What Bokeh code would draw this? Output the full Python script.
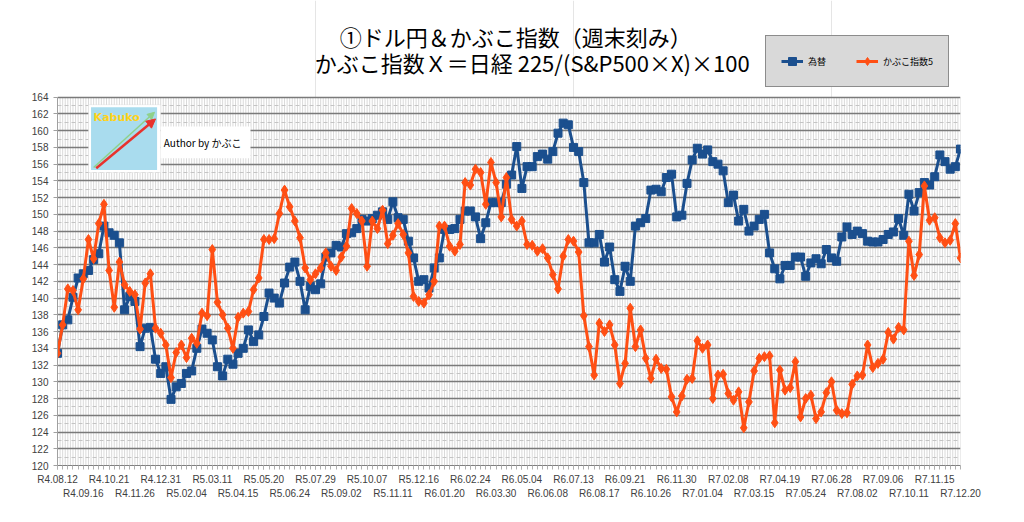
from bokeh.plotting import figure
from bokeh.models import (Range1d, FixedTicker, SingleIntervalTicker, LinearAxis,
                          Label, Legend, LegendItem, BoxAnnotation, Arrow, NormalHead)
from bokeh.embed import file_html
from bokeh.resources import INLINE

# ---- data ----
weeks = list(range(176))

tick_labels = ["R4.08.12", "R4.09.16", "R4.10.21", "R4.11.26", "R4.12.31", "R5.02.04",
               "R5.03.11", "R5.04.15", "R5.05.20", "R5.06.24", "R5.07.29", "R5.09.02",
               "R5.10.07", "R5.11.11", "R5.12.16", "R6.01.20", "R6.02.24", "R6.03.30",
               "R6.05.04", "R6.06.08", "R6.07.13", "R6.08.17", "R6.09.21", "R6.10.26",
               "R6.11.30", "R7.01.04", "R7.02.08", "R7.03.15", "R7.04.19", "R7.05.24",
               "R7.06.28", "R7.08.02", "R7.09.06", "R7.10.11", "R7.11.15", "R7.12.20"]

usdjpy = [133.4, 136.8, 137.4, 140.1, 142.4, 142.9, 143.3, 144.6, 145.3, 148.6, 147.8, 147.5,
          146.6, 138.6, 140.2, 139.6, 134.2, 136.4, 136.5, 132.7, 131.0, 131.8, 127.9, 129.4,
          129.8, 131.0, 131.3, 134.0, 136.3, 135.8, 135.0, 131.8, 130.7, 132.7, 132.1, 133.4,
          134.0, 136.2, 134.8, 135.6, 137.8, 140.6, 140.0, 139.4, 141.8, 143.7,
          144.3, 142.0, 138.6, 141.4, 141.0, 141.7, 144.9, 145.4, 146.3, 146.1, 147.7, 147.8,
          148.3, 149.4,
          149.2, 149.5, 149.9, 150.3, 149.4, 151.5, 149.6, 149.4, 146.8, 144.8, 142.0, 142.2,
          141.2, 143.6, 144.8, 148.2, 148.2, 148.3, 149.4, 150.4, 150.4, 149.7, 147.1, 149.0,
          151.4, 151.4, 151.4, 153.6,
          154.7, 158.1, 153.1, 155.7, 155.7, 156.9, 157.2, 156.6, 157.5, 159.7, 160.9, 160.7,
          158.0, 157.5, 153.8, 146.6, 146.6, 147.6, 144.3, 146.1, 142.2, 140.8, 143.8, 142.0,
          148.6, 149.0, 149.5, 152.9, 153.0, 152.7, 154.4,
          154.8, 149.7, 149.9, 153.7, 156.5, 157.9, 157.2, 157.7, 156.3, 156.0, 155.2, 151.4,
          152.3, 149.2, 150.6, 148.0, 148.6, 149.4, 150.0, 145.4, 143.5, 142.3, 143.9, 143.9,
          144.9, 144.9, 142.6, 144.2, 144.7,
          144.1, 145.8, 144.8, 144.4, 147.3, 148.5, 147.6, 148.0, 147.7, 146.8, 146.7, 146.7,
          147.0, 147.6, 147.9, 149.5, 147.5, 152.4, 150.4, 152.6, 153.8, 153.5, 154.5, 157.1,
          156.3, 155.4, 155.7, 157.8]

kabuko5 = [133.4, 136.8, 141.1, 140.9, 138.6, 142.3, 147.0, 144.7, 148.9, 151.2, 143.3, 138.9,
           144.3, 141.6, 140.8, 140.4, 136.3, 141.8, 142.9, 136.4, 135.8, 134.4, 130.5, 133.5,
           134.4, 132.9, 135.2, 134.6, 138.2, 137.9, 145.8, 139.5, 138.0, 136.4, 134.0, 137.7,
           138.2, 138.4, 141.0, 142.4, 147.0, 147.0, 147.1, 150.1, 152.9, 150.9,
           149.2, 147.2, 143.6, 142.2, 142.9, 143.6, 145.4, 143.8, 143.3, 144.9, 146.2, 150.7,
           150.1, 149.2,
           143.8, 149.2, 148.3, 150.5, 146.5, 147.5, 148.9, 147.6, 145.4, 140.2, 139.6, 139.4,
           140.4, 142.0, 148.6, 148.6, 146.2, 145.6, 146.4, 153.8, 153.5, 155.4, 155.0, 151.2,
           156.2, 153.8, 149.7, 154.4,
           149.4, 148.6, 149.2, 146.4, 146.3, 145.6, 145.9, 144.8, 142.8, 141.1, 145.0, 147.0,
           146.8, 145.5, 137.9, 134.2, 130.8, 137.0, 136.0, 136.8, 134.4, 129.8, 132.2, 138.8,
           134.2, 136.2, 132.8, 130.4, 132.7, 131.6, 131.5,
           128.2, 126.4, 128.3, 130.3, 130.4, 134.9, 134.0, 134.4, 128.0, 130.8, 130.9, 128.6,
           127.8, 128.8, 124.5, 127.6, 131.3, 132.8, 133.0, 133.1, 125.1, 131.4, 129.0, 129.3,
           132.4, 125.8, 128.0, 128.4, 125.6,
           126.4, 128.7, 130.0, 126.6, 126.2, 126.3, 129.7, 130.7, 130.8, 134.4, 131.7, 132.2,
           132.7, 135.9, 135.1, 136.5, 136.2, 146.8, 142.7, 145.2, 153.4, 149.3, 149.6, 147.2,
           146.6, 146.9, 148.9, 144.8]

series_names = ["為替", "かぶこ指数5"]
title_lines = ["①ドル円＆かぶこ指数（週末刻み）", "かぶこ指数Ｘ＝日経 225/(S&P500×X)×100"]

Y_MIN, Y_MAX = 120, 164
Y_TOP = 175.55  # headroom above the plot area for title / legend

BLUE = "#1b4f8e"
ORANGE = "#ff4f14"
TXT = "#404040"
AXFONT = "Liberation Sans"
JPFONT = "Noto Sans CJK JP"

p = figure(width=1016, height=514, output_backend="svg", toolbar_location=None,
           x_range=Range1d(0, 175), y_range=Range1d(Y_MIN, Y_TOP),
           x_axis_location=None,
           min_border_left=57, min_border_right=56, min_border_top=0, min_border_bottom=49)
p.outline_line_color = None
p.background_fill_color = "white"
p.border_fill_color = "white"

# y axis
p.yaxis.ticker = SingleIntervalTicker(interval=2, num_minor_ticks=2)
p.yaxis.bounds = (Y_MIN, Y_MAX)
p.yaxis.axis_line_color = "#a0a0a0"
p.yaxis.major_tick_line_color = "#a0a0a0"
p.yaxis.major_tick_out = 4
p.yaxis.major_tick_in = 0
p.yaxis.minor_tick_line_color = None
p.yaxis.major_label_standoff = 5
p.yaxis.major_label_text_font = AXFONT
p.yaxis.major_label_text_font_size = "10px"
p.yaxis.major_label_text_color = TXT

p.ygrid.bounds = (Y_MIN, Y_MAX)
p.ygrid.grid_line_color = "#7a7a7a"
p.ygrid.grid_line_width = 1.3
p.ygrid.minor_grid_line_color = "#c4c4c4"
p.ygrid.minor_grid_line_dash = "4 3"
p.ygrid.minor_grid_line_width = 1

# dense vertical grid (one line per week and half week), limited to the plot area
vx = [w * 0.5 for w in range(2 * (len(weeks) - 1) + 1)]
p.segment(x0=vx, y0=[Y_MIN] * len(vx), x1=vx, y1=[Y_MAX] * len(vx),
          line_color="#dadada", line_width=1, level="underlay")

# x axes (two rows of labels)
row1 = {i * 5: tick_labels[i] for i in range(0, len(tick_labels), 2)}
row2 = {i * 5: tick_labels[i] for i in range(1, len(tick_labels), 2)}
ax1 = LinearAxis(ticker=FixedTicker(ticks=list(row1.keys()), minor_ticks=weeks),
                 major_label_overrides=row1)
ax1.axis_line_color = "#808080"
ax1.major_tick_line_color = "#b0b0b0"
ax1.minor_tick_line_color = "#b0b0b0"
ax1.major_tick_out = 4
ax1.major_tick_in = 0
ax1.minor_tick_out = 4
ax1.minor_tick_in = 0
ax1.major_label_standoff = 4
ax1.major_label_text_font = AXFONT
ax1.major_label_text_font_size = "10px"
ax1.major_label_text_color = TXT
p.add_layout(ax1, "below")

ax2 = LinearAxis(ticker=FixedTicker(ticks=list(row2.keys())), major_label_overrides=row2)
ax2.axis_line_color = None
ax2.major_tick_line_color = None
ax2.minor_tick_line_color = None
ax2.major_tick_out = 0
ax2.major_tick_in = 0
ax2.major_label_standoff = 0
ax2.major_label_text_font = AXFONT
ax2.major_label_text_font_size = "10px"
ax2.major_label_text_color = TXT
p.add_layout(ax2, "below")

# series
bl = p.line(weeks, usdjpy, line_color=BLUE, line_width=3)
bs = p.scatter(weeks, usdjpy, marker="square", size=8, fill_color=BLUE, line_color=BLUE)
ol = p.line(weeks, kabuko5, line_color=ORANGE, line_width=3)
os_ = p.scatter(weeks, kabuko5, marker="diamond", size=10, fill_color=ORANGE, line_color=ORANGE)

legend = Legend(items=[LegendItem(label=series_names[0], renderers=[bl, bs]),
                       LegendItem(label=series_names[1], renderers=[ol, os_])],
                location=(708, 378), orientation="horizontal",
                padding=15, spacing=28, margin=0,
                glyph_width=22, glyph_height=20, label_height=20, label_standoff=5,
                label_text_font=JPFONT, label_text_font_size="9px", label_text_color="#000000",
                border_line_color="#404040", border_line_width=1,
                background_fill_color="#d9d9d9", background_fill_alpha=1)
p.add_layout(legend, "center")

# title
p.add_layout(Label(x=88.8, y=171.3, text=title_lines[0], text_align="center",
                   text_baseline="middle", text_font=JPFONT, text_font_size="22px",
                   text_color="#000000"))
p.add_layout(Label(x=92.0, y=168.2, text=title_lines[1], text_align="center",
                   text_baseline="middle", text_font=JPFONT, text_font_size="22px",
                   text_color="#000000"))

# logo placeholder
p.add_layout(BoxAnnotation(left=6.0, right=20.0, bottom=155.0, top=163.1,
                           fill_color="white", fill_alpha=1, line_color="#d0d0d0"))
p.add_layout(BoxAnnotation(left=6.5, right=19.3, bottom=155.3, top=162.8,
                           fill_color="#a9dcee", fill_alpha=1, line_color=None))
p.add_layout(Arrow(x_start=7.0, y_start=155.6, x_end=18.8, y_end=162.2,
                   line_color="#8fd18a", line_width=1.5,
                   end=NormalHead(size=7, fill_color="#8fd18a", line_color="#8fd18a")))
p.add_layout(Arrow(x_start=7.5, y_start=155.5, x_end=19.0, y_end=161.4,
                   line_color="#e8322d", line_width=2.5,
                   end=NormalHead(size=9, fill_color="#e8322d", line_color="#e8322d")))
p.add_layout(Label(x=7.0, y=161.6, text="Kabuko", text_baseline="middle",
                   text_font="DejaVu Sans", text_font_style="bold", text_font_size="11px",
                   text_color="#ffd21a"))
p.add_layout(BoxAnnotation(left=20.0, right=37.4, bottom=156.7, top=160.5,
                           fill_color="white", fill_alpha=1, line_color=None))
p.add_layout(Label(x=20.6, y=158.6, text="Author by かぶこ", text_baseline="middle",
                   text_font=JPFONT, text_font_size="10px", text_color="#000000"))

open("out.html", "w").write(file_html(p, INLINE))
